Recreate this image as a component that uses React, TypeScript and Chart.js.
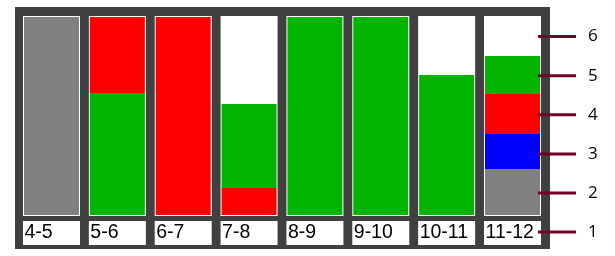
import React, { useEffect, useRef } from 'react';
import { Chart, registerables } from 'chart.js';

Chart.register(...registerables);

// ---- data ----
const categories = ['4-5', '5-6', '6-7', '7-8', '8-9', '9-10', '10-11', '11-12'];
type Range = [number, number] | null;
// segment ranges (percent of column height, bottom = 0, top = 100)
const graySegments: Range[] = [[0, 100], null, null, null, null, null, null, [0, 23.2]];
const greenSegments: Range[] = [null, [0, 61.6], null, [13.6, 56.1], [0, 100], [0, 100], [0, 70.7], [61.1, 80.3]];
const redSegments: Range[] = [null, [61.6, 100], [0, 100], [0, 13.6], null, null, null, [40.9, 61.1]];
const blueSegments: Range[] = [null, null, null, null, null, null, null, [23.2, 40.9]];
const rightTickValues = [1, 2, 3, 4, 5, 6];

// ---- styling constants ----
const PANEL = '#404040';
const TICK_RED = '#720024';
const COLOR_GRAY = '#808080';
const COLOR_GREEN = '#00B400';
const COLOR_RED = '#FF0000';
const COLOR_BLUE = '#0000FF';

const panelPlugin = {
  id: 'panelBg',
  beforeDraw(chart: any) {
    const { ctx, chartArea: a } = chart;
    ctx.save();
    ctx.fillStyle = PANEL;
    ctx.fillRect(a.left - 3.57, a.top, a.width + 8.14, a.height);
    ctx.restore();
  },
};

const tickMarkPlugin = {
  id: 'rightTickMarks',
  afterDraw(chart: any) {
    const s = chart.scales.y2;
    const { ctx } = chart;
    ctx.save();
    ctx.strokeStyle = TICK_RED;
    ctx.lineWidth = 3;
    s.ticks.forEach((t: any) => {
      const y = s.getPixelForValue(t.value);
      ctx.beginPath();
      ctx.moveTo(s.left - 7.4, y);
      ctx.lineTo(s.left + 30.6, y);
      ctx.stroke();
    });
    ctx.restore();
  },
};

export default function App() {
  const ref = useRef<HTMLCanvasElement | null>(null);

  useEffect(() => {
    if (!ref.current) return;
    const inner = 0.8351;
    const outer = 0.8655;
    const seg = (label: string, data: Range[], color: string) => ({
      label,
      data: data as any,
      backgroundColor: color,
      barPercentage: inner,
      categoryPercentage: 1,
      grouped: false,
      inflateAmount: 0,
      borderWidth: 0,
      order: 1,
      yAxisID: 'y',
    });
    const chart = new Chart(ref.current, {
      type: 'bar',
      data: {
        labels: categories,
        datasets: [
          seg('gray', graySegments, COLOR_GRAY),
          seg('green', greenSegments, COLOR_GREEN),
          seg('red', redSegments, COLOR_RED),
          seg('blue', blueSegments, COLOR_BLUE),
          {
            label: 'frame',
            data: categories.map(() => [-0.505, 100.505]) as any,
            backgroundColor: '#FFFFFF',
            barPercentage: outer,
            categoryPercentage: 1,
            grouped: false,
            inflateAmount: 0,
            borderWidth: 0,
            order: 5,
            yAxisID: 'y',
          },
          {
            label: 'labelBox',
            data: categories.map(() => [-15.15, -3.03]) as any,
            backgroundColor: '#FFFFFF',
            barPercentage: outer,
            categoryPercentage: 1,
            grouped: false,
            inflateAmount: 0,
            borderWidth: 0,
            order: 5,
            yAxisID: 'y',
          },
        ],
      },
      options: {
        animation: false,
        responsive: false,
        maintainAspectRatio: false,
        layout: { padding: { left: 18.57, right: 0, top: 7, bottom: 7 } },
        plugins: { legend: { display: false }, tooltip: { enabled: false } },
        scales: {
          x: {
            type: 'category',
            offset: true,
            position: { y: -3.03 } as any,
            grid: { display: false, drawTicks: false },
            border: { display: false },
            afterFit: (s: any) => {
              s.paddingLeft = 0;
              s.paddingRight = 0;
            },
            ticks: {
              z: 2,
              align: 'start',
              labelOffset: -27,
              padding: 0,
              autoSkip: false,
              maxRotation: 0,
              color: '#000000',
              font: { family: '"Liberation Sans", Arial, sans-serif', size: 19.5 },
            },
          },
          y: { type: 'linear', display: false, min: -17.17, max: 105.05 },
          y2: {
            type: 'linear',
            position: 'right',
            min: 0.5665,
            max: 6.7574,
            afterBuildTicks: (s: any) => {
              s.ticks = rightTickValues.map((v) => ({ value: v }));
            },
            afterFit: (s: any) => {
              s.width = 69.57;
              s.paddingTop = 0;
              s.paddingBottom = 0;
            },
            grid: { display: false, drawTicks: true, tickLength: 42.6 },
            border: { display: false },
            ticks: {
              padding: 0,
              color: '#000000',
              font: { family: '"Open Sans", sans-serif', size: 17 },
            },
          },
        },
      } as any,
      plugins: [panelPlugin, tickMarkPlugin],
    });
    return () => chart.destroy();
  }, []);

  return (
    <div style={{ position: 'fixed', left: 0, top: 0, width: 615, height: 256, background: '#fff' }}>
      <canvas ref={ref} width={615} height={256} style={{ width: 615, height: 256, display: 'block' }} />
    </div>
  );
}
